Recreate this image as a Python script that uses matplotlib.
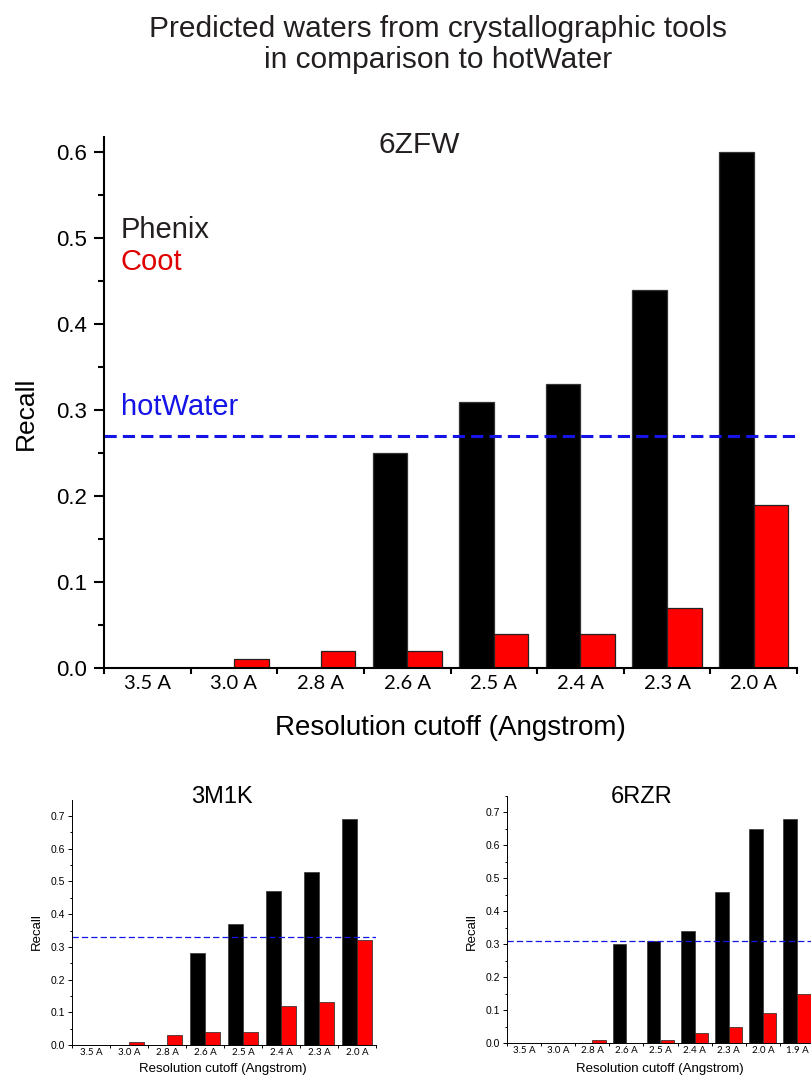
import numpy as np
import matplotlib.pyplot as plt
from matplotlib.ticker import MultipleLocator, FixedLocator

plt.rcParams['font.family'] = ['Liberation Sans', 'DejaVu Sans']

W, H = 811, 1077

# 6ZFW (main panel)
zfw_labels = ['3.5 A', '3.0 A', '2.8 A', '2.6 A', '2.5 A', '2.4 A', '2.3 A', '2.0 A']
zfw_phenix = [0, 0, 0, 0.25, 0.31, 0.33, 0.44, 0.60]
zfw_coot = [0, 0.01, 0.02, 0.02, 0.04, 0.04, 0.07, 0.19]
zfw_hotwater = 0.27

# 3M1K
m1k_labels = ['3.5 A', '3.0 A', '2.8 A', '2.6 A', '2.5 A', '2.4 A', '2.3 A', '2.0 A']
m1k_phenix = [0, 0, 0, 0.28, 0.37, 0.47, 0.53, 0.69]
m1k_coot = [0, 0.01, 0.03, 0.04, 0.04, 0.12, 0.13, 0.32]
m1k_hotwater = 0.33

# 6RZR
rzr_labels = ['3.5 A', '3.0 A', '2.8 A', '2.6 A', '2.5 A', '2.4 A', '2.3 A', '2.0 A', '1.9 A']
rzr_phenix = [0, 0, 0, 0.30, 0.31, 0.34, 0.46, 0.65, 0.68]
rzr_coot = [0, 0, 0.01, 0, 0.01, 0.03, 0.05, 0.09, 0.15]
rzr_hotwater = 0.31

BLUE = '#1414e6'
RED = '#ff0000'
TXT = '#231f20'


def px_axes(fig, left, right, top, bottom):
    return fig.add_axes([left / W, 1 - bottom / H, (right - left) / W, (bottom - top) / H])


def panel(ax, labels, phenix, coot, hot, ytop, big):
    x = np.arange(len(labels))
    lw_edge = 0.9 if big else 0.5
    ax.bar(x - 0.2, phenix, 0.4, color='black', edgecolor='#333333', linewidth=lw_edge)
    ax.bar(x + 0.2, coot, 0.4, color=RED, edgecolor='#222222', linewidth=lw_edge)
    if big:
        ax.axhline(hot, color=BLUE, lw=2.2, dashes=(4, 2))
    else:
        ax.axhline(hot, color=BLUE, lw=0.9, dashes=(5, 2.5))
    ax.set_xlim(-0.5, len(labels) - 0.5)
    ax.set_ylim(0, ytop)
    for s in ['top', 'right']:
        ax.spines[s].set_visible(False)
    sw = 1.5 if big else 0.7
    ax.spines['left'].set_linewidth(sw)
    ax.spines['bottom'].set_linewidth(sw)
    # category labels at centres, tick marks at the boundaries
    ax.set_xticks(x)
    ax.set_xticklabels(labels, family=['Lato', 'DejaVu Sans'], fontsize=14.5 if big else 7)
    ax.tick_params(axis='x', which='major', length=0, pad=5 if big else 2)
    ax.xaxis.set_minor_locator(FixedLocator(np.arange(-0.5, len(labels), 1.0)))
    ax.tick_params(axis='x', which='minor', length=4 if big else 2, width=sw, direction='out')
    ax.yaxis.set_minor_locator(MultipleLocator(0.05))
    ax.set_yticks(np.arange(0, ytop, 0.1))
    ax.set_yticklabels(['%.1f' % v for v in np.arange(0, ytop, 0.1)])
    ax.tick_params(axis='y', which='major', length=7 if big else 3, width=sw,
                   labelsize=16 if big else 7.5, pad=5 if big else 2)
    ax.tick_params(axis='y', which='minor', length=4 if big else 1.8, width=sw)


fig = plt.figure(figsize=(W / 100, H / 100), dpi=100)

fig.text(438 / W, 1 - 37 / H, 'Predicted waters from crystallographic tools',
         ha='center', va='baseline', fontsize=21.5, color=TXT)
fig.text(438 / W, 1 - 68 / H, 'in comparison to hotWater',
         ha='center', va='baseline', fontsize=21.5, color=TXT)

# main panel
ax = px_axes(fig, 104, 797, 137, 668)
panel(ax, zfw_labels, zfw_phenix, zfw_coot, zfw_hotwater, 0.618, True)
fig.text(419 / W, 1 - 145 / H, '6ZFW', ha='center', va='center', fontsize=21.5, color=TXT)
fig.text(121 / W, 1 - 230 / H, 'Phenix', ha='left', va='center', fontsize=21, color=TXT)
fig.text(121 / W, 1 - 262 / H, 'Coot', ha='left', va='center', fontsize=21, color='#e00000')
fig.text(121 / W, 1 - 407 / H, 'hotWater', ha='left', va='center', fontsize=21, color=BLUE)
fig.text(26 / W, 1 - 413 / H, 'Recall', ha='center', va='center', rotation=90, fontsize=19)
fig.text(450 / W, 1 - 728 / H, 'Resolution cutoff (Angstrom)', ha='center', va='center',
         fontsize=20)

# 3M1K
ax2 = px_axes(fig, 72, 376, 800, 1045)
panel(ax2, m1k_labels, m1k_phenix, m1k_coot, m1k_hotwater, 0.749, False)
fig.text(222 / W, 1 - 797 / H, '3M1K', ha='center', va='center', fontsize=17)
fig.text(37 / W, 1 - 932 / H, 'Recall', ha='center', va='center', rotation=90, fontsize=9.5)
fig.text(223 / W, 1 - 1069 / H, 'Resolution cutoff (Angstrom)', ha='center', va='center',
         fontsize=9.5)

# 6RZR (cut off at the right edge like the reference)
ax3 = px_axes(fig, 507, 814, 796, 1043)
panel(ax3, rzr_labels, rzr_phenix, rzr_coot, rzr_hotwater, 0.75, False)
fig.text(642 / W, 1 - 797 / H, '6RZR', ha='center', va='center', fontsize=17)
fig.text(472 / W, 1 - 932 / H, 'Recall', ha='center', va='center', rotation=90, fontsize=9.5)
fig.text(660 / W, 1 - 1069 / H, 'Resolution cutoff (Angstrom)', ha='center', va='center',
         fontsize=9.5)

fig.savefig('out.png', dpi=100)
